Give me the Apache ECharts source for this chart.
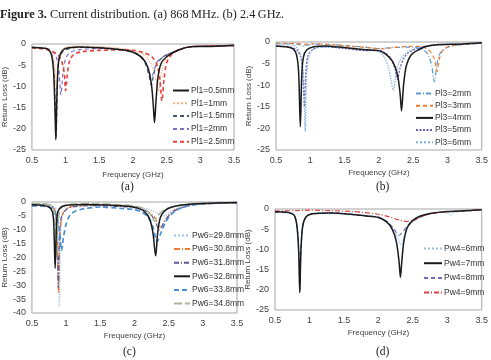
<!DOCTYPE html>
<html>
<head>
<meta charset="utf-8">
<script src="https://cdn.jsdelivr.net/npm/echarts@6/dist/echarts.min.js"></script>
<style>
  body { margin: 0; background: #fff; }
  #fig { width: 491px; height: 360px; }
</style>
</head>
<body>
<div id="fig"></div>
<script>
// Return loss curves, [frequency GHz, dB]

// (a) Pl1 sweep
var pl1_05 = [[0.5,-0.8],[0.6,-0.9],[0.7,-1.0],[0.75,-1.4],[0.79,-2.5],[0.82,-6],[0.84,-14],[0.855,-22.6],[0.87,-13],[0.89,-5],[0.92,-2.5],[0.97,-1.3],[1.05,-0.9],[1.2,-0.7],[1.4,-0.8],[1.6,-1.0],[1.8,-1.3],[1.95,-1.7],[2.05,-2.3],[2.15,-3.5],[2.22,-5.5],[2.27,-9],[2.3,-14],[2.32,-18.5],[2.34,-14],[2.37,-8],[2.42,-4.5],[2.5,-3],[2.6,-2],[2.7,-1.3],[2.8,-0.8],[2.9,-0.6],[3.1,-0.6],[3.3,-0.5],[3.5,-0.3]];
var pl1_1 = [[0.5,-0.7],[0.65,-0.8],[0.75,-1.2],[0.8,-2],[0.83,-4],[0.85,-8],[0.865,-11],[0.88,-6],[0.9,-3],[0.95,-1.3],[1.05,-0.6],[1.2,-0.5],[1.5,-0.6],[1.8,-1.0],[2.0,-1.4],[2.1,-2],[2.2,-3],[2.28,-5],[2.34,-8],[2.38,-11.2],[2.42,-7],[2.47,-4],[2.55,-2.5],[2.65,-1.6],[2.8,-0.8],[3.0,-0.5],[3.5,-0.3]];
var pl1_15 = [[0.5,-0.8],[0.65,-0.9],[0.75,-1.4],[0.8,-3],[0.83,-8],[0.85,-16],[0.86,-22],[0.875,-12],[0.9,-4],[0.95,-2],[1.05,-1.1],[1.2,-0.8],[1.5,-0.9],[1.8,-1.3],[2.0,-1.8],[2.1,-2.8],[2.18,-4.5],[2.24,-7.5],[2.27,-9.7],[2.31,-7],[2.36,-4.5],[2.45,-3],[2.55,-2.2],[2.65,-1.5],[2.8,-0.8],[3.0,-0.5],[3.5,-0.4]];
var pl1_2 = [[0.5,-0.8],[0.7,-1.0],[0.8,-1.6],[0.86,-3],[0.9,-6],[0.93,-12],[0.96,-7],[1.0,-3.5],[1.05,-2.2],[1.15,-1.5],[1.4,-1.1],[1.7,-1.2],[1.9,-1.6],[2.05,-2.3],[2.15,-3.5],[2.22,-5.5],[2.27,-8],[2.31,-6.5],[2.36,-4.2],[2.45,-3],[2.55,-2.2],[2.7,-1.3],[2.85,-0.7],[3.1,-0.5],[3.5,-0.4]];
var pl1_25 = [[0.5,-0.9],[0.7,-1.2],[0.8,-1.7],[0.88,-2.5],[0.94,-4],[0.98,-7],[1.0,-11],[1.02,-8],[1.06,-4],[1.12,-2.5],[1.25,-1.8],[1.5,-1.5],[1.8,-1.4],[2.0,-1.5],[2.15,-2],[2.28,-3],[2.36,-5],[2.4,-8.5],[2.43,-13.4],[2.46,-8.5],[2.5,-4.5],[2.56,-2.7],[2.65,-1.6],[2.8,-0.8],[3.0,-0.5],[3.5,-0.4]];

// (b) Pl3 sweep
var pl3_2 = [[0.5,-0.4],[0.7,-0.4],[0.85,-0.6],[0.9,-1.0],[0.95,-0.7],[1.1,-0.5],[1.5,-0.8],[1.8,-1.2],[2.0,-1.5],[2.2,-1.3],[2.4,-1.2],[2.55,-1.3],[2.65,-1.8],[2.72,-3],[2.77,-5.5],[2.81,-9.2],[2.84,-6],[2.88,-3],[2.95,-1.6],[3.05,-1],[3.2,-0.6],[3.5,-0.3]];
var pl3_3 = [[0.5,-0.3],[0.8,-0.3],[0.9,-0.6],[1.0,-0.4],[1.3,-0.6],[1.6,-1.0],[1.9,-1.4],[2.05,-1.6],[2.2,-1.3],[2.45,-1.0],[2.6,-1.0],[2.72,-1.8],[2.8,-3.5],[2.85,-6.8],[2.88,-4],[2.93,-2],[3.0,-1.2],[3.2,-0.6],[3.5,-0.3]];
var pl3_4 = [[0.5,-0.9],[0.65,-1.1],[0.75,-1.6],[0.8,-3],[0.83,-7],[0.855,-19.6],[0.875,-8],[0.9,-3.5],[0.95,-1.8],[1.05,-1.1],[1.2,-0.9],[1.5,-1.3],[1.8,-1.8],[2.0,-2.0],[2.1,-2.8],[2.2,-4.5],[2.27,-7.5],[2.31,-12],[2.33,-15.9],[2.36,-10],[2.4,-5.5],[2.47,-3],[2.58,-1.8],[2.7,-1],[2.9,-0.6],[3.2,-0.5],[3.5,-0.2]];
var pl3_5 = [[0.5,-1.0],[0.7,-1.2],[0.8,-1.8],[0.86,-3.5],[0.89,-7],[0.915,-15],[0.935,-7],[0.97,-3],[1.05,-1.6],[1.2,-1.1],[1.5,-1.5],[1.8,-2.0],[2.0,-2.0],[2.1,-2.6],[2.18,-4],[2.24,-6.5],[2.27,-8.6],[2.31,-6],[2.37,-3.6],[2.45,-2.3],[2.6,-1.3],[2.75,-0.8],[3.0,-0.6],[3.5,-0.3]];
var pl3_6 = [[0.5,-0.5],[0.7,-0.6],[0.8,-1.2],[0.86,-3],[0.9,-8],[0.925,-20.7],[0.945,-9],[0.97,-4],[1.02,-2],[1.15,-1.2],[1.4,-1.3],[1.7,-1.7],[1.9,-1.9],[2.0,-2.2],[2.08,-3.5],[2.14,-6],[2.18,-9],[2.21,-11.2],[2.25,-7.5],[2.3,-4.5],[2.38,-2.8],[2.5,-1.7],[2.65,-1],[2.85,-0.6],[3.2,-0.4],[3.5,-0.3]];

// (c) Pw6 sweep
var pw6_298 = [[0.5,-0.6],[0.7,-0.7],[0.8,-1.2],[0.85,-3],[0.88,-10],[0.9,-37.6],[0.92,-12],[0.95,-4.5],[1.0,-2.5],[1.1,-1.5],[1.4,-1.0],[1.8,-1.3],[2.0,-1.6],[2.15,-2.3],[2.3,-3.5],[2.42,-5],[2.5,-4],[2.6,-2.5],[2.75,-1.3],[3.0,-0.6],[3.5,-0.3]];
var pw6_308 = [[0.5,-0.8],[0.7,-0.9],[0.8,-1.6],[0.85,-4],[0.87,-12],[0.89,-33],[0.91,-12],[0.94,-5],[1.0,-2.5],[1.1,-1.6],[1.4,-1.2],[1.8,-1.5],[2.0,-1.8],[2.15,-2.8],[2.28,-5],[2.38,-9],[2.45,-6.5],[2.55,-3.5],[2.7,-1.8],[2.9,-0.8],[3.2,-0.5],[3.5,-0.3]];
var pw6_318 = [[0.5,-0.9],[0.7,-1.0],[0.8,-1.8],[0.85,-5],[0.87,-14],[0.885,-31],[0.9,-14],[0.93,-5.5],[1.0,-2.8],[1.1,-1.8],[1.4,-1.3],[1.8,-1.6],[2.0,-2.0],[2.15,-3],[2.27,-5.5],[2.37,-10],[2.44,-7],[2.55,-3.8],[2.7,-2],[2.9,-0.9],[3.2,-0.5],[3.5,-0.3]];
var pw6_328 = [[0.5,-1.0],[0.65,-1.2],[0.75,-1.8],[0.8,-3.5],[0.82,-8],[0.84,-23.9],[0.86,-8],[0.88,-3.5],[0.93,-1.8],[1.05,-1.1],[1.3,-0.9],[1.6,-1.1],[1.9,-1.5],[2.05,-2.2],[2.15,-3.5],[2.22,-6],[2.27,-11],[2.31,-19.4],[2.34,-11],[2.38,-5.5],[2.45,-3],[2.55,-1.8],[2.7,-1.1],[2.9,-0.6],[3.2,-0.4],[3.5,-0.2]];
var pw6_338 = [[0.5,-1.4],[0.65,-1.5],[0.75,-1.8],[0.82,-3],[0.87,-6],[0.91,-12],[0.935,-17.5],[0.96,-13],[1.0,-8],[1.05,-5],[1.12,-3.5],[1.25,-2.5],[1.5,-1.8],[1.8,-2.3],[2.0,-2.8],[2.1,-3.5],[2.2,-5.5],[2.27,-9],[2.33,-14.3],[2.39,-11],[2.45,-7.5],[2.52,-5],[2.6,-3.2],[2.7,-2],[2.85,-1.1],[3.0,-0.7],[3.2,-0.4],[3.5,-0.2]];
var pw6_348 = [[0.5,-0.6],[0.7,-0.7],[0.78,-1.2],[0.82,-3],[0.85,-10],[0.865,-20],[0.88,-9],[0.91,-3],[0.97,-1.3],[1.1,-0.7],[1.4,-0.6],[1.8,-1.0],[2.0,-1.4],[2.15,-2.5],[2.25,-5],[2.29,-7],[2.34,-5],[2.42,-3],[2.55,-1.8],[2.7,-1],[2.9,-0.5],[3.5,-0.2]];

// (d) Pw4 sweep
var pw4_6 = [[0.5,-0.6],[0.7,-0.8],[0.78,-1.5],[0.82,-4],[0.845,-10],[0.86,-20.5],[0.875,-10],[0.9,-4],[0.95,-1.8],[1.05,-1.1],[1.3,-0.9],[1.6,-1.2],[1.8,-1.6],[2.0,-2],[2.12,-3],[2.22,-5],[2.29,-7.5],[2.33,-8.9],[2.38,-6.5],[2.45,-4],[2.55,-2.5],[2.7,-1.3],[2.9,-0.8],[3.0,-1.0],[3.05,-1.5],[3.1,-0.9],[3.25,-0.5],[3.5,-0.3]];
var pw4_7 = [[0.5,-0.7],[0.7,-0.9],[0.78,-1.6],[0.82,-4.5],[0.845,-11],[0.86,-20.7],[0.875,-11],[0.9,-4.5],[0.95,-2],[1.05,-1.2],[1.3,-1.0],[1.6,-1.3],[1.8,-1.7],[2.0,-2.1],[2.12,-3.2],[2.2,-5],[2.26,-8],[2.3,-13],[2.32,-16.9],[2.34,-13],[2.37,-8],[2.42,-4.5],[2.5,-2.8],[2.6,-1.8],[2.75,-1.1],[3.0,-0.6],[3.3,-0.4],[3.5,-0.2]];
var pw4_8 = [[0.5,-0.8],[0.7,-1.0],[0.78,-1.7],[0.82,-4.5],[0.845,-11],[0.86,-20.5],[0.875,-11],[0.9,-4.5],[0.95,-2],[1.05,-1.2],[1.3,-1.0],[1.6,-1.3],[1.8,-1.7],[2.0,-2],[2.12,-3],[2.22,-4.8],[2.3,-6.5],[2.36,-5.5],[2.44,-3.8],[2.55,-2.5],[2.7,-1.4],[2.9,-0.8],[3.2,-0.5],[3.5,-0.3]];
var pw4_9 = [[0.5,-0.5],[0.8,-0.4],[1.0,-0.3],[1.3,-0.4],[1.6,-0.6],[1.8,-0.9],[2.0,-1.3],[2.15,-1.9],[2.3,-2.7],[2.42,-3.1],[2.52,-2.7],[2.62,-1.9],[2.75,-1.2],[2.9,-0.8],[3.1,-0.6],[3.3,-0.4],[3.5,-0.2]];

var freqTicks = { min: 0.5, max: 3.5, interval: 0.5 };

var sans = 'Liberation Sans';
var serif = 'Liberation Serif';
var axisGrey = '#404040';

function curve(name, data, panel, color, type, width) {
    return {
        name: name,
        type: 'line',
        xAxisIndex: panel,
        yAxisIndex: panel,
        data: data,
        symbol: 'none',
        smooth: 0.3,
        lineStyle: { color: color, type: type, width: width || 1.2 },
        itemStyle: { color: color }
    };
}

function xAx(panel, nameGap) {
    return {
        gridIndex: panel, type: 'value',
        min: freqTicks.min, max: freqTicks.max, interval: freqTicks.interval,
        axisLine: { show: false }, axisTick: { show: false }, splitLine: { show: false },
        axisLabel: { fontSize: 9, color: axisGrey, fontFamily: sans, margin: 6 },
        name: 'Frequency (GHz)', nameLocation: 'middle', nameGap: nameGap,
        nameTextStyle: { fontSize: 8, color: axisGrey, fontFamily: sans }
    };
}

function yAx(panel, min, nameGap) {
    return {
        gridIndex: panel, type: 'value',
        min: min, max: 0, interval: 5,
        axisLine: { show: false }, axisTick: { show: false }, splitLine: { show: false },
        axisLabel: { fontSize: 9, color: axisGrey, fontFamily: sans, margin: 6 },
        name: 'Return Loss (dB)', nameLocation: 'middle', nameRotate: 90, nameGap: nameGap,
        nameTextStyle: { fontSize: 8, color: axisGrey, fontFamily: sans }
    };
}

// line-only legend keys: hide the marker the line series adds in the middle
function legendAt(names, left, top, itemWidth, gap) {
    return {
        data: names, orient: 'vertical', left: left, top: top, padding: 0,
        itemWidth: itemWidth, itemHeight: 8, itemGap: gap,
        itemStyle: { opacity: 0 },
        textStyle: { fontSize: 8.5, color: '#333', fontFamily: sans, padding: [0, 0, 0, -3] }
    };
}

function frame(left, top, width, height) {
    return { left: left, top: top, width: width, height: height,
             show: true, borderColor: '#a6a6a6', borderWidth: 1, backgroundColor: '#fff' };
}

var subLabel = { fontSize: 11.5, fontWeight: 'normal', color: '#222', fontFamily: serif };

var figChart = echarts.init(document.getElementById('fig'));
var figOptions = {
    animation: false,
    backgroundColor: '#fff',
    title: [
        { text: '{b|Figure 3.} Current distribution. (a) 868\u2009MHz. (b) 2.4\u2009GHz.', left: 0, top: 9, padding: 0,
          textStyle: { fontSize: 12.3, fontWeight: 'normal', color: '#222', fontFamily: serif,
                       rich: { b: { fontSize: 12.3, fontWeight: 'bold', color: '#222', fontFamily: serif } } } },
        { text: '(a)', left: 121, top: 181, padding: 0, textStyle: subLabel },
        { text: '(b)', left: 376, top: 181, padding: 0, textStyle: subLabel },
        { text: '(c)', left: 123, top: 346, padding: 0, textStyle: subLabel },
        { text: '(d)', left: 376, top: 346, padding: 0, textStyle: subLabel }
    ],
    grid: [
        frame(29, 44, 205, 106),
        frame(276, 42, 207, 108),
        frame(29, 202, 208, 111),
        frame(275, 209, 207, 101)
    ],
    xAxis: [xAx(0, 21), xAx(1, 19), xAx(2, 19), xAx(3, 19)],
    yAxis: [yAx(0, -25, 20), yAx(1, -25, 21), yAx(2, -40, 20), yAx(3, -25, 19)],
    legend: [
        legendAt(['Pl1=0.5mm', 'Pl1=1mm', 'Pl1=1.5mm', 'Pl1=2mm', 'Pl1=2.5mm'], 172, 86, 16, 3.8),
        legendAt(['Pl3=2mm', 'Pl3=3mm', 'Pl3=4mm', 'Pl3=5mm', 'Pl3=6mm'], 415, 89, 17, 3.2),
        legendAt(['Pw6=29.8mm', 'Pw6=30.8mm', 'Pw6=31.8mm', 'Pw6=32.8mm', 'Pw6=33.8mm', 'Pw6=34.8mm'], 173, 231, 16, 4.6),
        legendAt(['Pw4=6mm', 'Pw4=7mm', 'Pw4=8mm', 'Pw4=9mm'], 423, 244, 18, 5.7)
    ],
    series: [
        curve('Pl1=1mm', pl1_1, 0, '#f4b183', 'dotted', 1.2),
        curve('Pl1=1.5mm', pl1_15, 0, '#44546a', [4, 3], 1.2),
        curve('Pl1=2mm', pl1_2, 0, '#7f6fbf', [4, 3], 1.2),
        curve('Pl1=2.5mm', pl1_25, 0, '#e8403a', [4, 3], 1.6),
        curve('Pl1=0.5mm', pl1_05, 0, '#1a1a1a', 'solid', 1.5),

        curve('Pl3=2mm', pl3_2, 1, '#5b9bd5', [5, 2, 1, 2], 1.2),
        curve('Pl3=3mm', pl3_3, 1, '#ed7d31', [4, 3], 1.2),
        curve('Pl3=5mm', pl3_5, 1, '#6f5fb0', [2, 1.5], 1.3),
        curve('Pl3=6mm', pl3_6, 1, '#7fb0e0', 'dotted', 1.3),
        curve('Pl3=4mm', pl3_4, 1, '#1a1a1a', 'solid', 1.5),

        curve('Pw6=29.8mm', pw6_298, 2, '#9dc3e6', 'dotted', 1.2),
        curve('Pw6=30.8mm', pw6_308, 2, '#ed7d31', [6, 2, 1, 2], 1.2),
        curve('Pw6=31.8mm', pw6_318, 2, '#5a5aa0', [5, 2, 1, 2], 1.2),
        curve('Pw6=33.8mm', pw6_338, 2, '#4a8fd6', [5, 3], 1.7),
        curve('Pw6=34.8mm', pw6_348, 2, '#a9b89a', [8, 3], 1.4),
        curve('Pw6=32.8mm', pw6_328, 2, '#1a1a1a', 'solid', 1.5),

        curve('Pw4=6mm', pw4_6, 3, '#9dc3e6', 'dotted', 1.2),
        curve('Pw4=8mm', pw4_8, 3, '#6f6fb8', [4, 3], 1.2),
        curve('Pw4=9mm', pw4_9, 3, '#e04040', [5, 2, 1, 2], 1.2),
        curve('Pw4=7mm', pw4_7, 3, '#1a1a1a', 'solid', 1.5)
    ]
};
figChart.setOption(figOptions);
</script>
</body>
</html>
